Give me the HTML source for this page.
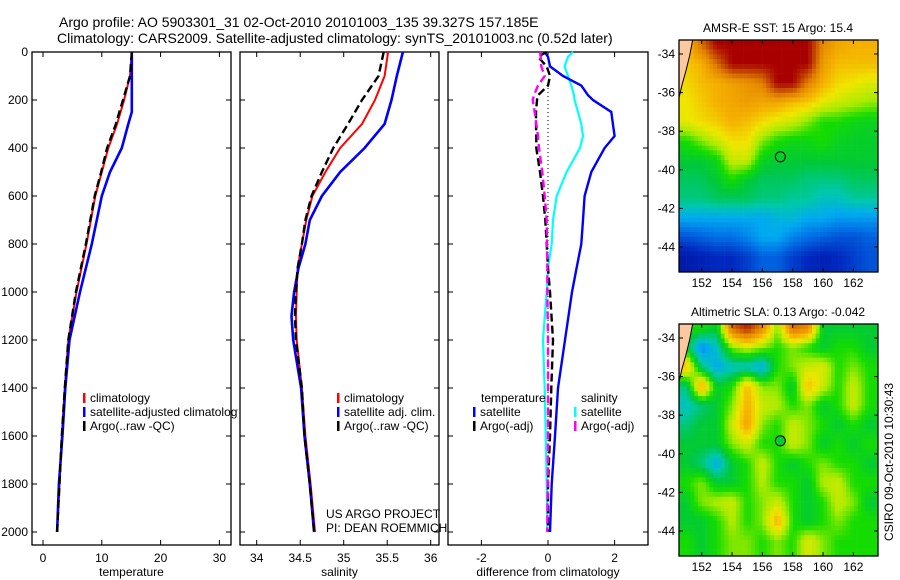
<!DOCTYPE html>
<html><head><meta charset="utf-8"><style>
html,body{margin:0;padding:0;background:#fff}
svg{display:block;font-family:"Liberation Sans",sans-serif}
</style></head><body>
<svg id="fig" width="900" height="580" viewBox="0 0 900 580">
<defs>
<clipPath id="clipLeg"><rect x="0" y="380" width="238" height="60"/></clipPath>
<clipPath id="clipMap1"><rect x="679" y="40" width="199" height="232"/></clipPath>
<clipPath id="clipMap2"><rect x="679" y="324" width="199" height="232"/></clipPath>
</defs>
<text x="59" y="27" font-size="14">Argo profile: AO 5903301_31 02-Oct-2010 20101003_135 39.327S 157.185E</text>
<text x="57" y="43" font-size="14">Climatology: CARS2009. Satellite-adjusted climatology: synTS_20101003.nc (0.52d later)</text>
<g id="g"></g>
</svg>
<script>
// ---------- data ----------
const depthT = [0,100,200,250,300,400,500,600,800,1000,1200,1400,1600,1800,2000];
const tempArgo = [15.1,14.8,13.6,13.0,12.4,10.9,9.9,8.8,7.3,5.6,4.3,3.7,3.2,2.8,2.4];
const tempClim = [15.1,14.8,13.8,13.2,12.6,11.1,10.0,8.9,7.4,5.7,4.3,3.7,3.2,2.8,2.4];
const tempSat  = [15.1,15.1,15.1,15.1,14.5,13.4,11.4,10.0,8.3,6.3,4.5,3.8,3.3,2.7,2.4];
const depthS = [0,100,200,300,400,500,600,700,800,900,1000,1100,1200,1400,1600,1800,2000];
const salArgo = [35.46,35.40,35.21,35.05,34.88,34.75,34.63,34.56,34.52,34.47,34.45,34.44,34.45,34.52,34.55,34.61,34.66];
const salClim = [35.51,35.47,35.36,35.21,34.96,34.79,34.64,34.57,34.52,34.47,34.46,34.45,34.46,34.52,34.56,34.62,34.67];
const salSat  = [35.68,35.61,35.55,35.47,35.24,34.96,34.75,34.61,34.56,34.48,34.43,34.40,34.42,34.51,34.55,34.61,34.66];
const depthD = [0,20,60,100,140,180,200,250,300,350,400,500,600,700,800,900,1000,1200,1400,1600,1800,2000];
const dTempSat = [-0.1,0.0,0.06,0.45,1.0,1.2,1.35,1.9,1.95,2.0,1.7,1.3,1.1,1.05,1.0,0.86,0.72,0.51,0.3,0.21,0.11,0.06];
const dSalSat  = [0.75,0.6,0.5,0.6,0.7,0.78,0.8,0.9,1.0,1.05,0.96,0.56,0.26,0.15,0.11,0.0,-0.04,-0.15,-0.1,-0.07,-0.04,-0.02];
const dTempArgo= [-0.04,-0.3,-0.04,0.06,0.0,-0.3,-0.33,-0.36,-0.36,-0.35,-0.35,-0.24,-0.15,-0.08,-0.04,0.0,0.06,0.15,0.1,0.06,0.0,0.0];
const dSalArgo = [-0.24,-0.22,-0.2,-0.1,-0.3,-0.42,-0.46,-0.4,-0.35,-0.3,-0.27,-0.17,-0.1,-0.04,-0.03,-0.02,-0.02,0.0,0.0,0.0,-0.01,-0.02];
const depthTicks = [0,200,400,600,800,1000,1200,1400,1600,1800,2000];
const tempTicks = [0,10,20,30];
const salTicks = [34,34.5,35,35.5,36];
const salTickLabels = ["34","34.5","35","35.5","36"];
const diffTicks = [-2,0,2];
const lonTicks = [152,154,156,158,160,162];
const latTicks = [-34,-36,-38,-40,-42,-44];
const gridLons = [151,152,153,154,155,156,157,158,159,160,161,162,163];
const gridLats = [-33.5,-34.5,-35.5,-36.5,-37.5,-38.5,-39.5,-40.5,-41.5,-42.5,-43.5,-44.5];
const sstGrid = [
[0.7,0.85,1,1,1,1,1,1,1,0.8,0.74,0.72,0.72],
[0.68,0.72,0.85,1,1,1,1,1,1,0.76,0.7,0.7,0.7],
[0.66,0.7,0.72,0.75,0.78,0.82,1,1,0.82,0.72,0.66,0.64,0.62],
[0.64,0.68,0.72,0.74,0.76,0.74,0.74,0.7,0.68,0.63,0.6,0.58,0.56],
[0.63,0.66,0.68,0.72,0.7,0.66,0.62,0.6,0.55,0.5,0.5,0.48,0.47],
[0.5,0.55,0.6,0.65,0.65,0.55,0.5,0.48,0.48,0.5,0.47,0.46,0.46],
[0.45,0.45,0.48,0.6,0.6,0.47,0.45,0.45,0.45,0.45,0.45,0.45,0.45],
[0.42,0.42,0.45,0.5,0.45,0.42,0.42,0.42,0.4,0.4,0.4,0.42,0.42],
[0.4,0.4,0.42,0.42,0.42,0.4,0.4,0.38,0.38,0.35,0.35,0.38,0.38],
[0.3,0.3,0.3,0.3,0.3,0.3,0.32,0.33,0.3,0.3,0.28,0.28,0.28],
[0.18,0.2,0.22,0.22,0.25,0.3,0.3,0.25,0.22,0.2,0.18,0.18,0.2],
[0.08,0.1,0.12,0.12,0.15,0.2,0.2,0.15,0.12,0.1,0.12,0.15,0.18]];
const slaGrid = [
[0.5,0.5,0.45,0.85,0.95,0.8,0.55,0.85,0.8,0.45,0.45,0.45,0.45],
[0.45,0.25,0.35,0.55,0.6,0.55,0.5,0.55,0.5,0.45,0.5,0.5,0.45],
[0.7,0.4,0.3,0.35,0.35,0.3,0.5,0.55,0.6,0.62,0.5,0.55,0.5],
[0.4,0.75,0.45,0.5,0.7,0.55,0.55,0.45,0.7,0.6,0.5,0.6,0.5],
[0.35,0.4,0.45,0.55,0.72,0.6,0.58,0.5,0.55,0.45,0.5,0.6,0.5],
[0.4,0.45,0.45,0.6,0.75,0.55,0.5,0.6,0.55,0.5,0.45,0.5,0.45],
[0.45,0.45,0.45,0.55,0.6,0.5,0.5,0.6,0.55,0.45,0.5,0.45,0.5],
[0.45,0.4,0.3,0.45,0.5,0.6,0.5,0.45,0.5,0.55,0.5,0.5,0.45],
[0.5,0.55,0.45,0.45,0.5,0.58,0.5,0.5,0.45,0.58,0.6,0.5,0.5],
[0.45,0.55,0.58,0.6,0.5,0.55,0.6,0.5,0.45,0.5,0.6,0.55,0.45],
[0.45,0.45,0.5,0.58,0.5,0.55,0.72,0.5,0.45,0.5,0.55,0.5,0.5],
[0.5,0.45,0.5,0.55,0.55,0.5,0.55,0.5,0.62,0.55,0.5,0.5,0.5]];
const argoLon = 157.185, argoLat = -39.327;
const coastLon = [151.4,151.2,150.95,150.7,150.5];
const coastLat = [-33.3,-34.1,-34.9,-35.6,-36.3];

// ---------- helpers ----------
const NS='http://www.w3.org/2000/svg';
const G=document.getElementById('g');
function mk(tag,at,parent){const e=document.createElementNS(NS,tag);for(const k in at)e.setAttribute(k,at[k]);(parent||G).appendChild(e);return e;}
const yD = d => 52 + d*0.24;
const xT = v => 43 + v*5.88;
const xS = v => 256.7 + (v-34)*87;
const xDf = v => 548 + v*33.3;
const TOP=52, BOT=545;

function line(xs,ys,fx,col,w,dash,name){
  const p=xs.map((v,i)=>fx(v).toFixed(1)+','+yD(ys[i]).toFixed(1)).join(' ');
  const e=mk('polyline',{points:p,fill:'none',stroke:col,'stroke-width':w});
  if(dash)e.setAttribute('stroke-dasharray',dash);
  
  
}
function panel(x0,x1,ticks,labels,fx,xlabel,name,leftLabels){
  const r=mk('rect',{x:x0,y:TOP,width:x1-x0,height:BOT-TOP,fill:'none',stroke:'#000','stroke-width':1.3});
  
  
  ticks.forEach((t,i)=>{
    const x=fx(t);
    mk('line',{x1:x,x2:x,y1:TOP,y2:TOP+5,stroke:'#000'});
    mk('line',{x1:x,x2:x,y1:BOT,y2:BOT-5,stroke:'#000'});
    const tx=mk('text',{x:x,y:BOT+17,'font-size':12,'text-anchor':'middle'});
    tx.textContent=labels[i];
    
    
  });
  depthTicks.forEach(d=>{
    const y=yD(d);
    mk('line',{x1:x0,x2:x0+5,y1:y,y2:y,stroke:'#000'});
    mk('line',{x1:x1,x2:x1-5,y1:y,y2:y,stroke:'#000'});
    if(leftLabels){const tx=mk('text',{x:28,y:y+4,'font-size':12,'text-anchor':'end'});tx.textContent=d;
      
      }
  });
  const xl=mk('text',{x:(x0+x1)/2,y:BOT+31,'font-size':12,'text-anchor':'middle'});
  xl.textContent=xlabel;
  
  
}
function legend(x,y,col,label,name){
  mk('rect',{x:x,y:y-9,width:2.5,height:10,fill:col});
  const t=mk('text',{x:x+7,y:y,'font-size':12});t.textContent=label;
  
  
  return t;
}
function text(x,y,s,name,anchor){const t=mk('text',{x:x,y:y,'font-size':12,'text-anchor':anchor||'start'});t.textContent=s;
  
  return t;}

// ---------- panel 1: temperature ----------
panel(32,231,tempTicks,tempTicks.map(String),xT,'temperature','temperature-panel',true);
line(tempClim,depthT,xT,'#f00',2,null,'temperature-climatology-line');
line(tempSat,depthT,xT,'#00f',2.6,null,'temperature-satellite-line');
line(tempArgo,depthT,xT,'#000',2.4,'8,4','temperature-argo-line');
legend(83,402,'#f00','climatology','legend-climatology');
legend(83,416,'#00f','satellite-adjusted climatology','legend-satellite-adjusted').setAttribute('clip-path','url(#clipLeg)');
legend(83,430,'#000','Argo(..raw -QC)','legend-argo');
// ---------- panel 2: salinity ----------
panel(240,439,salTicks,salTickLabels,xS,'salinity','salinity-panel',false);
line(salClim,depthS,xS,'#f00',2,null,'salinity-climatology-line');
line(salSat,depthS,xS,'#00f',2.6,null,'salinity-satellite-line');
line(salArgo,depthS,xS,'#000',2.4,'8,4','salinity-argo-line');
legend(337,402,'#f00','climatology','legend-sal-climatology');
legend(337,416,'#00f','satellite adj. clim.','legend-sal-satellite');
legend(337,430,'#000','Argo(..raw -QC)','legend-sal-argo');
text(326,518,'US ARGO PROJECT','credit-project');
text(326,532,'PI: DEAN ROEMMICH','credit-pi');
// ---------- panel 3: differences ----------
panel(448,648,diffTicks,diffTicks.map(String),xDf,'difference from climatology','difference-panel',false);
const z=mk('line',{x1:548,x2:548,y1:yD(150),y2:yD(2000),stroke:'#000','stroke-dasharray':'1,3'});


line(dSalSat,depthD,xDf,'#0ff',2.2,null,'salinity-satellite-diff-line');
line(dTempSat,depthD,xDf,'#00f',2.4,null,'temperature-satellite-diff-line');
line(dTempArgo,depthD,xDf,'#000',2.4,'8,4','temperature-argo-diff-line');
line(dSalArgo,depthD,xDf,'#f0f',2.4,'8,4','salinity-argo-diff-line');
text(481,402,'temperature','legend-temperature-header');
legend(473,416,'#00f','satellite','legend-diff-temp-satellite');
legend(473,430,'#000','Argo(-adj)','legend-diff-temp-argo');
text(581,402,'salinity','legend-salinity-header');
legend(574,416,'#0ff','satellite','legend-diff-sal-satellite');
legend(574,430,'#f0f','Argo(-adj)','legend-diff-sal-argo');

// ---------- maps ----------
const cstops=[[0,[0,0,130]],[0.12,[0,40,190]],[0.22,[0,110,230]],[0.3,[0,170,240]],[0.37,[0,200,170]],[0.44,[0,200,60]],[0.5,[20,220,0]],[0.57,[170,235,0]],[0.64,[240,230,0]],[0.72,[245,175,0]],[0.82,[225,130,0]],[0.92,[190,60,0]],[1,[168,0,0]]];
function cmap(v){v=Math.max(0,Math.min(1,v));for(let i=1;i<cstops.length;i++){if(v<=cstops[i][0]){const a=cstops[i-1],b=cstops[i];const f=(v-a[0])/(b[0]-a[0]);return 'rgb('+a[1].map((c,k)=>Math.round(c+(b[1][k]-c)*f)).join(',')+')';}}return 'rgb(168,0,0)';}
function interp(grid,lon,lat){
  let fi=(lon-gridLons[0]); let fj=(gridLats[0]-lat);
  fi=Math.max(0,Math.min(gridLons.length-1.001,fi)); fj=Math.max(0,Math.min(gridLats.length-1.001,fj));
  const i=Math.floor(fi),j=Math.floor(fj),a=fi-i,b=fj-j;
  return grid[j][i]*(1-a)*(1-b)+grid[j][i+1]*a*(1-b)+grid[j+1][i]*(1-a)*b+grid[j+1][i+1]*a*b;
}
function map(y0,grid,title,name,filledCircle,clip){
  const X0=679,X1=878,H=232;
  const mx=l=>701.7+(l-152)*15.17;
  const my=l=>y0+14+(-34-l)*19.3;
  const g=mk('g',{});
  
  
  const cells=mk('g',{'clip-path':'url(#'+clip+')'},g);
  const cw=3.8,ch=4.8;
  for(let y=y0;y<y0+H;y+=ch){for(let x=X0;x<X1;x+=cw){
    const lon=152+(x+cw/2-701.7)/15.17, lat=-34-(y+ch/2-y0-14)/19.3;
    const v=interp(grid,lon,lat);
    mk('rect',{x:x.toFixed(1),y:y.toFixed(1),width:cw+0.3,height:ch+0.3,fill:cmap(v)},cells);
  }}
  const lp=coastLon.map((l,i)=>mx(l).toFixed(1)+','+my(coastLat[i]).toFixed(1)).join(' ');
  const land=mk('polygon',{points:X0+','+y0+' '+lp+' '+X0+','+my(coastLat[coastLat.length-1]).toFixed(1),fill:'#fcc89e',stroke:'none','clip-path':'url(#'+clip+')'},g);
  
  
  mk('polyline',{points:lp,fill:'none',stroke:'#000','stroke-width':1,'clip-path':'url(#'+clip+')'},g);
  mk('rect',{x:X0,y:y0,width:X1-X0,height:H,fill:'none',stroke:'#000','stroke-width':1.3},g);
  lonTicks.forEach(l=>{const x=mx(l);mk('line',{x1:x,x2:x,y1:y0,y2:y0+4,stroke:'#000'},g);mk('line',{x1:x,x2:x,y1:y0+H,y2:y0+H-4,stroke:'#000'},g);
    const t=mk('text',{x:x,y:y0+H+15,'font-size':12,'text-anchor':'middle'},g);t.textContent=l;
    
    });
  latTicks.forEach(l=>{const y=my(l);mk('line',{x1:X0,x2:X0+4,y1:y,y2:y,stroke:'#000'},g);mk('line',{x1:X1,x2:X1-4,y1:y,y2:y,stroke:'#000'},g);
    const t=mk('text',{x:675,y:y+4,'font-size':12,'text-anchor':'end'},g);t.textContent=l;
    
    });
  const c=mk('circle',{cx:mx(argoLon),cy:my(argoLat),r:5,fill:filledCircle?cmap(0.45):'none',stroke:'#000','stroke-width':1},g);
  
  
  const t=mk('text',{x:778,y:y0-8,'font-size':12,'text-anchor':'middle'},g);t.textContent=title;
  
  
}
map(40,sstGrid,'AMSR-E SST: 15 Argo: 15.4','sst-map',false,'clipMap1');
map(324,slaGrid,'Altimetric SLA: 0.13 Argo: -0.042','sla-map',true,'clipMap2');
const st=mk('text',{x:0,y:0,'font-size':12,'text-anchor':'middle',transform:'translate(893,462) rotate(-90)'});
st.textContent='CSIRO 09-Oct-2010 10:30:43';


</script>
</body></html>
